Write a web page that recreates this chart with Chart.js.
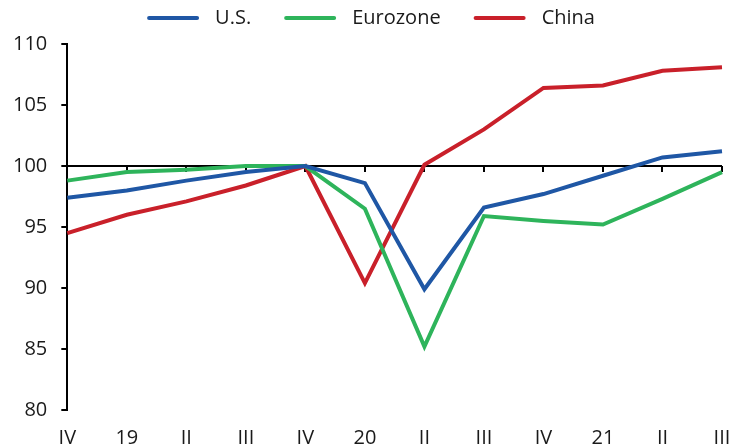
<!DOCTYPE html>
<html>
<head>
<meta charset="utf-8">
<script src="https://cdn.jsdelivr.net/npm/chart.js@4/dist/chart.umd.min.js"></script>
<style>
  html, body { margin: 0; padding: 0; background: #fff; }
  #wrap { width: 729px; height: 446px; }
</style>
</head>
<body>
<div id="wrap"><canvas id="c" width="729" height="446"></canvas></div>
<script>
// Quarterly index levels (Q4 2019 = 100)
const quarters = ['IV', '19', 'II', 'III', 'IV', '20', 'II', 'III', 'IV', '21', 'II', 'III'];
const usValues = [97.4, 98.0, 98.8, 99.5, 100.0, 98.6, 89.9, 96.6, 97.7, 99.2, 100.7, 101.2];
const eurozoneValues = [98.8, 99.5, 99.7, 100.0, 100.0, 96.5, 85.2, 95.9, 95.5, 95.2, 97.3, 99.5];
const chinaValues = [94.5, 96.0, 97.1, 98.4, 100.0, 90.4, 100.1, 103.0, 106.4, 106.6, 107.8, 108.1];
const yTicks = [80, 85, 90, 95, 100, 105, 110];
const baseLevel = 100;

const FONT = '"Open Sans", "DejaVu Sans", sans-serif';
const FONT_SIZE = 20;
const TEXT = '#1a1a1a';

// Reference line at the base level with small downward ticks at each quarter
const baseLinePlugin = {
  id: 'baseLine',
  beforeDatasetsDraw(chart) {
    const { ctx, scales: { x, y }, chartArea } = chart;
    const py = Math.round(y.getPixelForValue(baseLevel));
    ctx.save();
    ctx.strokeStyle = '#000';
    ctx.lineWidth = 2;
    ctx.beginPath();
    ctx.moveTo(chartArea.left, py);
    ctx.lineTo(chartArea.right, py);
    quarters.forEach((q, i) => {
      if (i === 0) return;
      const px = Math.round(x.getPixelForValue(i));
      ctx.moveTo(px, py);
      ctx.lineTo(px, py + 6);
    });
    ctx.stroke();
    ctx.restore();
  }
};

// Legend row: line swatch followed by the series name
const legendRowPlugin = {
  id: 'legendRow',
  afterDraw(chart) {
    const { ctx } = chart;
    const sw = 52, gapText = 16, gapItem = 33, cy = 18, cx = 371;
    ctx.save();
    ctx.font = FONT_SIZE + 'px ' + FONT;
    ctx.textBaseline = 'middle';
    const items = chart.data.datasets.map(ds => ({
      label: ds.label, color: ds.borderColor, w: ctx.measureText(ds.label).width
    }));
    const total = items.reduce((s, it) => s + sw + gapText + it.w, 0) + gapItem * (items.length - 1);
    let x = cx - total / 2;
    items.forEach(it => {
      ctx.strokeStyle = it.color;
      ctx.lineWidth = 4;
      ctx.lineCap = 'round';
      ctx.beginPath();
      ctx.moveTo(x + 2, cy);
      ctx.lineTo(x + sw - 2, cy);
      ctx.stroke();
      x += sw + gapText;
      ctx.fillStyle = TEXT;
      ctx.fillText(it.label, x, cy);
      x += it.w + gapItem;
    });
    ctx.restore();
  }
};

new Chart(document.getElementById('c'), {
  type: 'line',
  data: {
    labels: quarters,
    datasets: [
      { label: 'U.S.', data: usValues, borderColor: '#1F57A5', backgroundColor: '#1F57A5' },
      { label: 'Eurozone', data: eurozoneValues, borderColor: '#2EB45B', backgroundColor: '#2EB45B' },
      { label: 'China', data: chinaValues, borderColor: '#C9202A', backgroundColor: '#C9202A' }
    ]
  },
  options: {
    responsive: false,
    animation: false,
    devicePixelRatio: 1,
    layout: { padding: { top: 44, left: -1, right: 7, bottom: -20 } },
    elements: {
      line: { borderWidth: 4, tension: 0, borderCapStyle: 'butt', borderJoinStyle: 'miter' },
      point: { radius: 0, hoverRadius: 0 }
    },
    plugins: {
      legend: { display: false },
      tooltip: { enabled: false }
    },
    scales: {
      x: {
        offset: false,
        grid: { display: false, drawTicks: false },
        border: { display: false },
        ticks: {
          color: TEXT, font: { family: FONT, size: FONT_SIZE }, padding: 16,
          maxRotation: 0, autoSkip: false
        },
        afterFit(scale) { scale.paddingLeft = 0; scale.paddingRight = 0; }
      },
      y: {
        min: 80,
        max: 110,
        afterBuildTicks(scale) { scale.ticks = yTicks.map(v => ({ value: v })); },
        grid: { drawOnChartArea: false, drawTicks: true, tickLength: 6, color: '#000', lineWidth: 2 },
        border: { display: true, color: '#000', width: 2 },
        ticks: { color: TEXT, font: { family: FONT, size: FONT_SIZE }, padding: 14 }
      }
    }
  },
  plugins: [baseLinePlugin, legendRowPlugin]
});
</script>
</body>
</html>
